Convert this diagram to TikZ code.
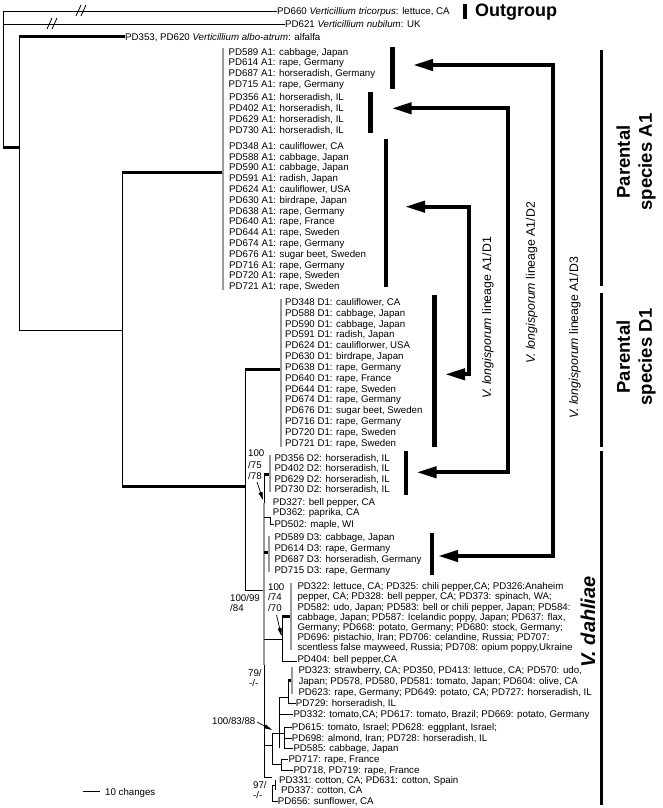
\documentclass[tikz,border=0pt]{standalone}
\usepackage{fontspec}
\setmainfont{Liberation Sans}
\usetikzlibrary{arrows.meta}
\newcommand\labfont{\fontsize{9.7}{10.6}\selectfont}
\begin{document}
\begin{tikzpicture}[x=1pt,y=-1pt,
  br/.style={line width=0.8pt},
  thk/.style={line width=3pt},
  gry/.style={line width=1.8pt,draw=black!40},
  grp/.style={line width=4.5pt},
  lin/.style={line width=4pt,line join=miter,{Triangle[length=20pt,width=11pt]}-{Triangle[length=20pt,width=11pt]}},
  ptr/.style={line width=0.7pt,-{Triangle[length=8pt,width=4pt]}},
  lab/.style={anchor=base west,inner sep=0pt,font=\labfont},
  big/.style={font=\bfseries\fontsize{18.5}{22}\selectfont,align=center,rotate=90,inner sep=0pt},
  lin1/.style={font=\fontsize{12.3}{13}\selectfont,rotate=90,inner sep=0pt}]
\useasboundingbox (0,0) rectangle (662,808);
% ---------------- outgroup ----------------
\coordinate (r) at (3,11);
\coordinate (rb) at (3,147);
\draw[br] (3,11) -- (rb);
\node[lab] (o1) at (277,14.6) {PD660 \textit{Verticillium tricorpus}: lettuce, CA};
\node[lab] (o2) at (285,27.6) {PD621 \textit{Verticillium nubilum}: UK};
\node[lab] (o3) at (125,40.6) {PD353, PD620 \textit{Verticillium albo-atrum}: alfalfa};
\draw[br] (r) -- (o1.west |- r);
\draw[br] (3,24) -- (o2.west |- 0,24);
\foreach \x/\y in {82/11,53/24}{
  \draw[br] (\x-6,\y+5) -- (\x-1,\y-6);
  \draw[br] (\x-1,\y+5) -- (\x+4,\y-6);}
\node[font=\bfseries\fontsize{18}{20}\selectfont,anchor=west,inner sep=0pt] (og) at (475,12) {Outgroup};
\draw[grp] (465,4) -- (465,19);
% ---------------- ingroup backbone ----------------
\coordinate (n19) at (19,37);
\coordinate (n19b) at (19,330);
\coordinate (n122) at (122,172);
\coordinate (n122b) at (122,486);
\coordinate (n245) at (245,369);
\coordinate (n245b) at (245,590);
\draw[thk] (rb) -- (19,147);
\draw[br] (n19) -- (n19b);
\draw[thk] (n19) -- (o3.west |- n19);
\draw[br] (n19b) -- (122,330);
\draw[br] (n122) -- (n122b);
\draw[thk] (n122) -- (223,172);
\draw[thk] (n122b) -- (245,486);
\draw[br] (n245) -- (n245b);
\draw[thk] (n245) -- (281,369);
\draw[br] (n245b) -- (264,590);
% A1 polytomy and D1 polytomy
\draw[gry] (223,48) -- (223,290);
\draw[gry] (281,299) -- (281,447);
% ---------------- A1 labels ----------------
\foreach \t [count=\i from 0] in {{PD589 A1: cabbage, Japan},{PD614 A1: rape, Germany},{PD687 A1: horseradish, Germany},{PD715 A1: rape, Germany}}
  \node[lab] (ga\i) at (228.5,55.3+\i*10.7) {\t};
\foreach \t [count=\i from 0] in {{PD356 A1: horseradish, IL},{PD402 A1: horseradish, IL},{PD629 A1: horseradish, IL},{PD730 A1: horseradish, IL}}
  \node[lab] (gb\i) at (229,100.9+\i*10.9) {\t};
\foreach \t [count=\i from 0] in {{PD348 A1: cauliflower, CA},{PD588 A1: cabbage, Japan},{PD590 A1: cabbage, Japan},{PD591 A1: radish, Japan},{PD624 A1: cauliflower, USA},{PD630 A1: birdrape, Japan},{PD638 A1: rape, Germany},{PD640 A1: rape, France},{PD644 A1: rape, Sweden},{PD674 A1: rape, Germany},{PD676 A1: sugar beet, Sweden},{PD716 A1: rape, Germany},{PD720 A1: rape, Sweden},{PD721 A1: rape, Sweden}}
  \node[lab] (gc\i) at (229,149.3+\i*10.8) {\t};
% ---------------- D1 labels ----------------
\foreach \t [count=\i from 0] in {{PD348 D1: cauliflower, CA},{PD588 D1: cabbage, Japan},{PD590 D1: cabbage, Japan},{PD591 D1: radish, Japan},{PD624 D1: cauliflorwer, USA},{PD630 D1: birdrape, Japan},{PD638 D1: rape, Germany},{PD640 D1: rape, France},{PD644 D1: rape, Sweden},{PD674 D1: rape, Germany},{PD676 D1: sugar beet, Sweden},{PD716 D1: rape, Germany},{PD720 D1: rape, Sweden},{PD721 D1: rape, Sweden}}
  \node[lab] (gd\i) at (285,305.3+\i*10.85) {\t};
% ---------------- V. dahliae ----------------
\coordinate (bb) at (264,474);
\coordinate (bbe) at (264,777);
\draw[br] (bb) -- (bbe);
\draw[gry] (264,503) -- (264,665);
% D2
\draw[thk] (bb) -- (270,474);
\draw[gry] (270,455) -- (270,492);
\foreach \t [count=\i from 0] in {{PD356 D2: horseradish, IL},{PD402 D2: horseradish, IL},{PD629 D2: horseradish, IL},{PD730 D2: horseradish, IL}}
  \node[lab] (ge\i) at (274.3,461.3+\i*10.45) {\t};
\node[lab] (t327) at (272.7,505.3) {PD327: bell pepper, CA};
\node[lab] (t362) at (272.7,515.9) {PD362: paprika, CA};
\node[lab] (t502) at (274.3,527.6) {PD502: maple, WI};
\draw[br] (264,517) -- (270,517) -- (270,524) -- (t502.west |- 0,524);
% D3
\draw[thk] (264,552) -- (269,552);
\draw[gry] (269,536) -- (269,572);
\foreach \t [count=\i from 0] in {{PD589 D3: cabbage, Japan},{PD614 D3: rape, Germany},{PD687 D3: horseradish, Germany},{PD715 D3: rape, Germany}}
  \node[lab] (gf\i) at (274.3,540.3+\i*11.1) {\t};
% clade 100/74/70
\foreach \t [count=\i from 0] in {{PD322: lettuce, CA; PD325: chili pepper,CA; PD326:Anaheim},{pepper, CA; PD328: bell pepper, CA; PD373: spinach, WA;},{PD582: udo, Japan; PD583: bell or chili pepper, Japan; PD584:},{cabbage, Japan; PD587: Icelandic poppy, Japan; PD637: flax,},{Germany; PD668: potato, Germany; PD680: stock, Germany;},{PD696: pistachio, Iran; PD706: celandine, Russia; PD707:},{scentless false mayweed, Russia; PD708: opium poppy,Ukraine}}
  \node[lab] (gg\i) at (297.3,589.6+\i*10.2) {\t};
\node[lab] (t404) at (297.3,662.6) {PD404: bell pepper,CA};
\draw[br] (264,639) -- (282,639);
\draw[br] (282,616) -- (282,661) -- (t404.west |- 0,661);
\draw[thk] (282,616) -- (291,616);
\draw[gry] (291,583) -- (291,650);
% lower clades
\foreach \t [count=\i from 0] in {{PD323: strawberry, CA; PD350, PD413: lettuce, CA; PD570: udo,},{Japan; PD578, PD580, PD581: tomato, Japan; PD604: olive, CA},{PD623: rape, Germany; PD649: potato, CA; PD727: horseradish, IL}}
  \node[lab] (gh\i) at (298.3,673.6+\i*10.8) {\t};
\node[lab] (t729) at (295.7,706.9) {PD729: horseradish, IL};
\node[lab] (t332) at (293.3,717.9) {PD332: tomato,CA; PD617: tomato, Brazil; PD669: potato, Germany};
\node[lab] (t615) at (291.7,730.9) {PD615: tomato, Israel; PD628: eggplant, Israel;};
\node[lab] (t698) at (291.7,741.9) {PD698: almond, Iran; PD728: horseradish, IL};
\node[lab] (t585) at (293.3,751.9) {PD585: cabbage, Japan};
\node[lab] (t717) at (288.3,762.6) {PD717: rape, France};
\node[lab] (t718) at (293.3,773.6) {PD718, PD719: rape, France};
\node[lab] (t331) at (279,783.6) {PD331: cotton, CA; PD631: cotton, Spain};
\node[lab] (t337) at (281,793.6) {PD337: cotton, CA};
\node[lab] (t656) at (277.7,804.6) {PD656: sunflower, CA};
% skeleton (approximate)
\draw[br] (264,745) -- (272,745);
\draw[br] (272,733) -- (272,764);
\draw[br] (272,733) -- (279,733);
\draw[br] (279,697) -- (279,748);
\draw[br] (279,697) -- (288,697);
\draw[br] (288,680) -- (288,703) -- (t729.west |- 0,703);
\draw[thk] (288,680) -- (292,680);
\draw[gry] (292,667) -- (292,694);
\draw[br] (279,714) -- (t332.west |- 0,714);
\draw[br] (279,733) -- (284,733);
\draw[br] (284,727) -- (284,748) -- (t585.west |- 0,748);
\draw[br] (284,727) -- (t615.west |- 0,727);
\draw[br] (284,738) -- (t698.west |- 0,738);
\draw[br] (272,764) -- (281,764);
\draw[br] (281,759) -- (281,770) -- (t718.west |- 0,770);
\draw[br] (281,759) -- (t717.west |- 0,759);
\draw[br] (bbe) -- (272,777);
\draw[br] (272,785) -- (272,801) -- (t656.west |- 0,801);
\draw[br] (272,785) -- (275,785);
\draw[br] (275,780) -- (275,790);
% support values
\node[lab] (s1) at (248,456.6) {100};
\node[lab] (s1b) at (248,468.6) {/75};
\node[lab] (s1c) at (248,479.6) {/78};
\draw[ptr] (257,482) -- (263,500);
\node[lab] (s2) at (230,601.3) {100/99};
\node[lab] (s2b) at (230,611.6) {/84};
\node[lab] (s3) at (268,590.6) {100};
\node[lab] (s3b) at (268,600.6) {/74};
\node[lab] (s3c) at (268,611.6) {/70};
\draw[ptr] (276.5,615) -- (281.5,636);
\node[lab] (s4) at (248,676.3) {79/};
\node[lab] (s4b) at (249,686.6) {-/-};
\node[lab] (s5) at (212,724.3) {100/83/88};
\draw[ptr] (257,722) -- (272,730);
\node[lab] (s6) at (253,788.6) {97/};
\node[lab] (s6b) at (253,798.6) {-/-};
% scale bar
\coordinate (sc1) at (82.7,791.7);
\coordinate (sc2) at (100,791.7);
\draw[br] (sc1) -- (sc2);
\node[lab] (sct) at (105,795.3) {10 changes};
% ---------------- group bars ----------------
\coordinate (ba1) at (392.5,47);  \coordinate (ba1e) at (392.5,89);
\coordinate (ba2) at (370.7,92);  \coordinate (ba2e) at (370.7,133);
\coordinate (ba3) at (386,139);   \coordinate (ba3e) at (386,287);
\coordinate (bd1) at (434.3,295); \coordinate (bd1e) at (434.3,447);
\coordinate (bd2) at (406,451);   \coordinate (bd2e) at (406,495);
\coordinate (bd3) at (432,533);   \coordinate (bd3e) at (432,575);
\foreach \a in {ba1,ba2,ba3,bd1,bd2,bd3} \draw[grp] (\a) -- (\a e);
% ---------------- lineage arrows ----------------
\draw[lin] (438,556) -- (553,556) -- (553,65) -- (413,65);
\draw[lin] (416.5,472.3) -- (507.7,472.3) -- (507.7,108.3) -- (391.7,108.3);
\draw[lin] (445,374.3) -- (469.3,374.3) -- (469.3,206.7) -- (405,206.7);
\node[lin1] (l1) at (488,318) {\textit{V. longisporum} lineage A1/D1};
\node[lin1] (l2) at (531.7,283) {\textit{V. longisporum} lineage A1/D2};
\node[lin1] (l3) at (575,338) {\textit{V. longisporum} lineage A1/D3};
% ---------------- right-hand brackets ----------------
\draw[line width=2.5pt] (601.7,50) -- (601.7,286);
\draw[line width=2.5pt] (601.7,293) -- (601.7,447);
\draw[line width=2.5pt] (601.7,451) -- (601.7,805);
\node[big] (pa1) at (636,162) {Parental\\species A1};
\node[big] (pd1) at (636,357) {Parental\\species D1};
\node[big,font=\bfseries\itshape\fontsize{20}{24}\selectfont] (vd) at (588,622) {V. dahliae};
\end{tikzpicture}
\end{document}
